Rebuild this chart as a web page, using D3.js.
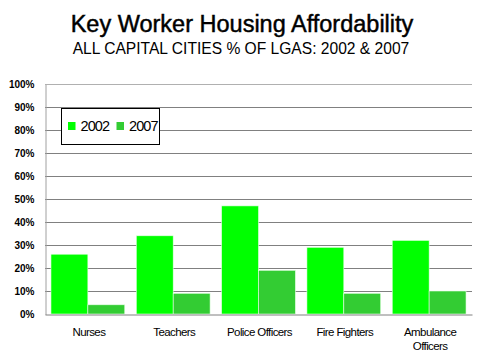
<!DOCTYPE html>
<html><head><meta charset="utf-8">
<script src="https://cdn.jsdelivr.net/npm/d3@7"></script>
<style>
html,body{margin:0;padding:0;background:#fff;}
svg{display:block;}
text{font-family:"Liberation Sans",Arial,sans-serif;}
</style></head>
<body>
<div id="chart"></div>
<script>
const categories = [["Nurses"], ["Teachers"], ["Police Officers"], ["Fire Fighters"], ["Ambulance", "Officers"]];
const seriesNames = ["2002", "2007"];
const values2002 = [26, 34, 47, 29, 32];
const values2007 = [4, 9, 19, 9, 10];
const yTicks = [0, 10, 20, 30, 40, 50, 60, 70, 80, 90, 100];
const colors = ["#00ff00", "#33cc33"];

const W = 480, H = 360;
const m = {left: 45, right: 8, top: 84, bottom: 46};
const svg = d3.select("#chart").append("svg").attr("width", W).attr("height", H);

svg.append("text").attr("x", 242).attr("y", 32).attr("text-anchor", "middle")
  .attr("font-size", 23.5).attr("fill", "#000").attr("stroke", "#000").attr("stroke-width", 0.45)
  .text("Key Worker Housing Affordability");
svg.append("text").attr("x", 241).attr("y", 54).attr("text-anchor", "middle")
  .attr("font-size", 15.6).attr("fill", "#000").text("ALL CAPITAL CITIES % OF LGAS: 2002 & 2007");

const keys = categories.map(c => c.join(" "));
const x = d3.scaleBand().domain(keys).range([m.left, W - m.right]).paddingInner(0.135).paddingOuter(0.07);
const xs = d3.scaleBand().domain(seriesNames).range([0, x.bandwidth()]);
const y = d3.scaleLinear().domain([0, 100]).range([H - m.bottom, m.top]);

// gridlines
svg.append("g").selectAll("line").data(yTicks.filter(t => t > 0)).join("line")
  .attr("x1", m.left).attr("x2", W - m.right)
  .attr("y1", d => Math.round(y(d)) + 0.5).attr("y2", d => Math.round(y(d)) + 0.5)
  .attr("stroke", d => d === 100 ? "#b0b0b0" : "#808080").attr("stroke-width", 1);

// y axis
const yAxis = d3.axisLeft(y).tickValues(yTicks).tickFormat(d => d + "%").tickSize(0).tickPadding(11);
const gy = svg.append("g").attr("transform", `translate(${m.left + 0.5},0.5)`).call(yAxis);
gy.select(".domain").attr("stroke", "#a0a0a0");
gy.selectAll("text").attr("font-size", 10).attr("font-weight", "bold").attr("fill", "#000")
  .attr("font-family", "'Liberation Sans',Arial,sans-serif");

// bars
const data = keys.map((k, i) => ({key: k, vals: [values2002[i], values2007[i]]}));
const groups = svg.append("g").selectAll("g").data(data).join("g")
  .attr("transform", d => `translate(${x(d.key)},0)`);
groups.selectAll("rect").data(d => d.vals.map((v, j) => ({s: seriesNames[j], v, j}))).join("rect")
  .attr("x", d => xs(d.s)).attr("width", xs.bandwidth())
  .attr("y", d => y(d.v)).attr("height", d => y(0) - y(d.v))
  .attr("fill", d => colors[d.j]).attr("stroke", "#e8ffe8").attr("stroke-width", 0.6);

// x axis
const xAxis = d3.axisBottom(x).tickSize(0).tickFormat("");
const gx = svg.append("g").attr("transform", `translate(0,${Math.round(y(0)) + 0.5})`).call(xAxis);
gx.select(".domain").attr("stroke", "#808080");
const labels = svg.append("g").selectAll("text").data(categories).join("text")
  .attr("x", (d, i) => x(keys[i]) + x.bandwidth() / 2 + 1)
  .attr("y", 336).attr("text-anchor", "middle").attr("font-size", 11.5)
  .attr("letter-spacing", "-0.6px").attr("fill", "#000");
labels.selectAll("tspan").data(d => d).join("tspan")
  .attr("x", function() { return this.parentNode.getAttribute("x"); })
  .attr("dy", (d, i) => i === 0 ? 0 : 13.5).text(d => d);

// legend
const lg = svg.append("g");
lg.append("rect").attr("x", 61.5).attr("y", 108.5).attr("width", 98).attr("height", 36)
  .attr("fill", "#fff").attr("stroke", "#000").attr("stroke-width", 1);
const lx = [68, 116.5];
seriesNames.forEach((s, i) => {
  lg.append("rect").attr("x", lx[i]).attr("y", 122).attr("width", 7.5).attr("height", 8).attr("fill", colors[i]);
  lg.append("text").attr("x", lx[i] + 12.5).attr("y", 131).attr("font-size", 14.5)
    .attr("letter-spacing", "-0.9px").attr("fill", "#000").text(s);
});
</script>
</body></html>
